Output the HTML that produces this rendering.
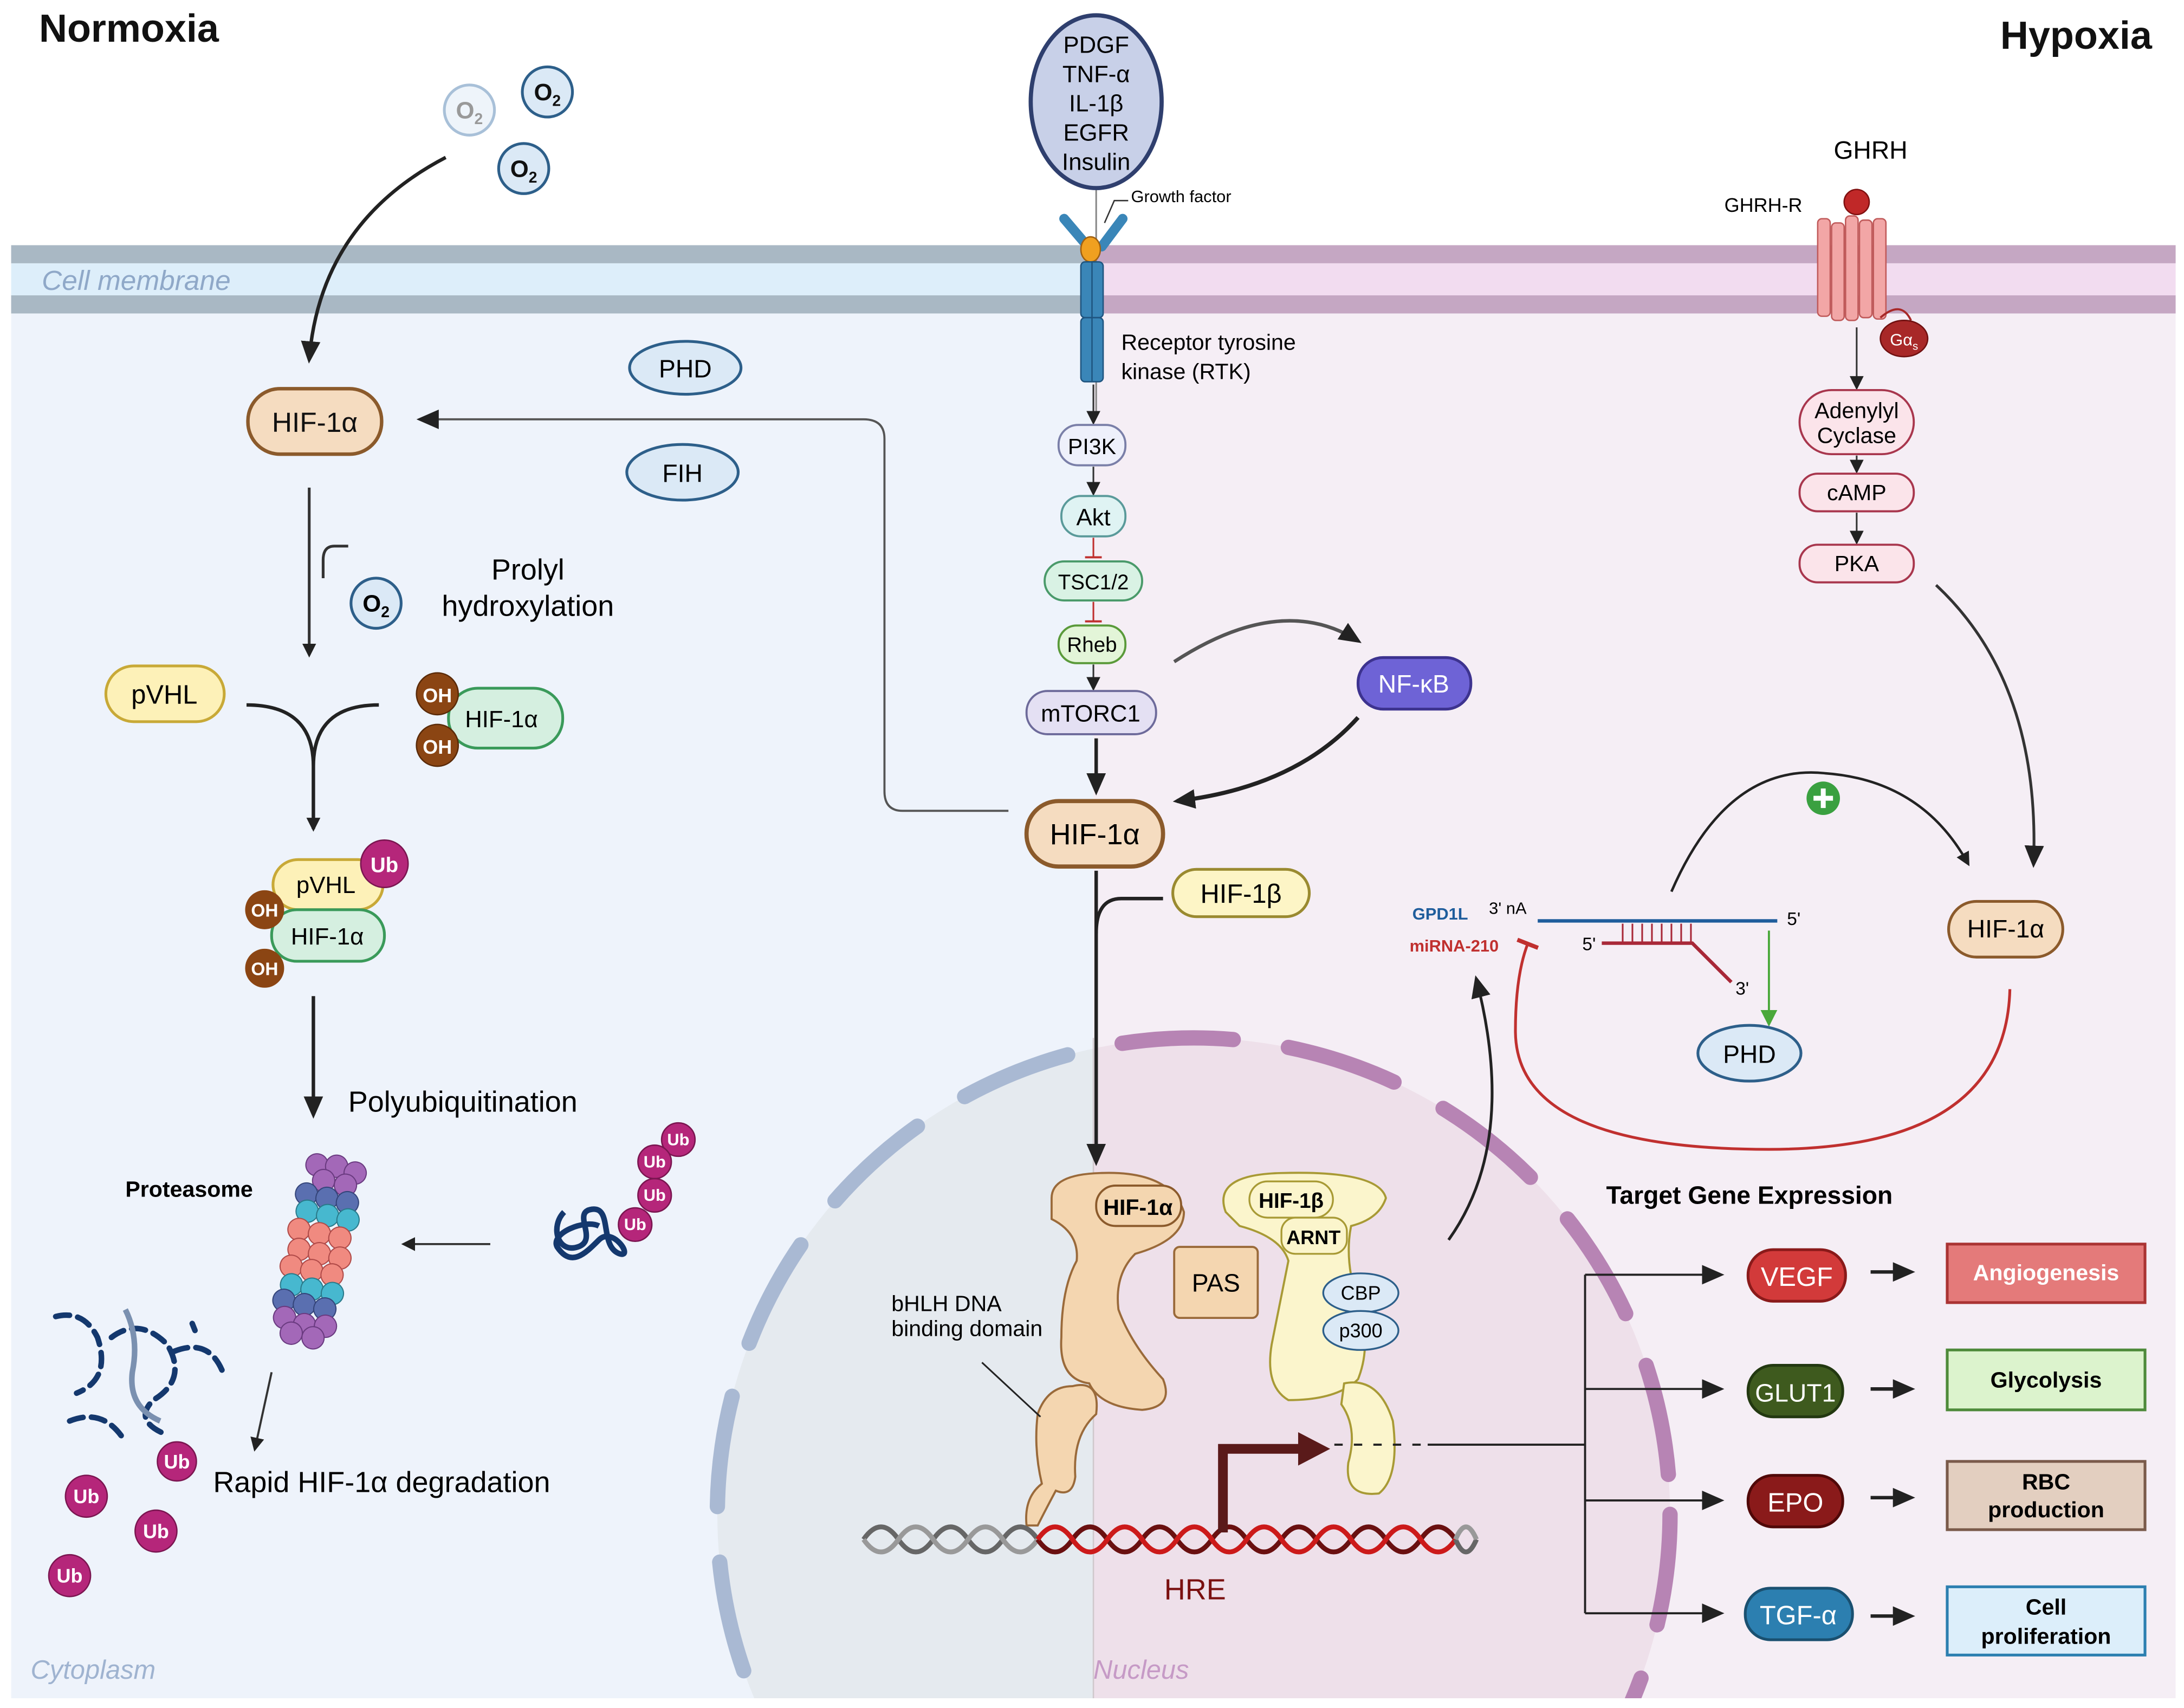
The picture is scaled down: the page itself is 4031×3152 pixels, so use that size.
<!DOCTYPE html>
<html><head><meta charset="utf-8"><style>
html,body{margin:0;padding:0;background:#fff;overflow:hidden;width:4031px;height:3152px;}
svg{display:block;overflow:hidden;}
text{font-family:"Liberation Sans",sans-serif;}
</style></head><body>
<svg width="4031" height="3152" viewBox="0 0 1568 1226" preserveAspectRatio="none" xmlns="http://www.w3.org/2000/svg">
<defs>
<marker id="ah" markerWidth="10" markerHeight="10" refX="8" refY="5" orient="auto" markerUnits="userSpaceOnUse"><path d="M0,0 L10,5 L0,10 Z" fill="#222"/></marker>
<marker id="ahb" markerWidth="16" markerHeight="14" refX="13" refY="7" orient="auto" markerUnits="userSpaceOnUse"><path d="M0,0 L16,7 L0,14 Z" fill="#222"/></marker>
<marker id="ahg" markerWidth="12" markerHeight="12" refX="10" refY="6" orient="auto" markerUnits="userSpaceOnUse"><path d="M0,0 L12,6 L0,12 Z" fill="#4aa83a"/></marker>
<marker id="tr" markerWidth="4" markerHeight="16" refX="2" refY="8" orient="auto" markerUnits="userSpaceOnUse"><rect x="0" y="0" width="3" height="16" fill="#c0302f"/></marker>
<clipPath id="cl"><rect x="0" y="0" width="785" height="1219"/></clipPath>
<clipPath id="cr"><rect x="785" y="0" width="777" height="1219"/></clipPath>
</defs>
<rect width="1568" height="1226" fill="#fff"/>
<rect x="8" y="225" width="777" height="994" fill="#eef3fb"/>
<rect x="785" y="225" width="777" height="994" fill="#f5eef5"/>
<rect x="8" y="176" width="777" height="13" fill="#a9b8c4"/>
<rect x="8" y="189" width="777" height="23" fill="#ddeefa"/>
<rect x="8" y="212" width="777" height="13" fill="#a9b8c4"/>
<rect x="785" y="176" width="777" height="13" fill="#c5a7c3"/>
<rect x="785" y="189" width="777" height="23" fill="#f2dcf0"/>
<rect x="785" y="212" width="777" height="13" fill="#c5a7c3"/>
<text x="30" y="208" font-size="20" font-style="italic" fill="#8fa8c8">Cell membrane</text>
<g clip-path="url(#cl)"><circle cx="857" cy="1087" r="342" fill="#e5eaef"/>
<circle cx="857" cy="1087" r="342" fill="none" stroke="#a9b9d3" stroke-width="11" stroke-linecap="round" stroke-dasharray="80 40"/></g>
<g clip-path="url(#cr)"><circle cx="857" cy="1087" r="342" fill="#eee0ea"/>
<circle cx="857" cy="1087" r="342" fill="none" stroke="#b784b4" stroke-width="11" stroke-linecap="round" stroke-dasharray="80 40"/></g>
<line x1="785" y1="745" x2="785" y2="1219" stroke="#d0c8cc" stroke-width="1"/>
<text x="22" y="1205" font-size="19" font-style="italic" fill="#9fb3d0">Cytoplasm</text>
<text x="785" y="1205" font-size="19" font-style="italic" fill="#c69ac6">Nucleus</text>

<text x="28" y="30" font-size="28" font-weight="bold" fill="#111">Normoxia</text>
<text x="1545" y="35" font-size="28" font-weight="bold" fill="#111" text-anchor="end">Hypoxia</text>

<circle cx="337" cy="79" r="18" fill="#eef4fa" stroke="#a8c0d8" stroke-width="2"/>
<text x="337" y="85" font-size="17" font-weight="bold" fill="#999" text-anchor="middle">O<tspan font-size="11" dy="4">2</tspan></text>
<circle cx="393" cy="66" r="18" fill="#dbe9f6" stroke="#2d5f8a" stroke-width="2"/>
<text x="393" y="72" font-size="17" font-weight="bold" fill="#111" text-anchor="middle">O<tspan font-size="11" dy="4">2</tspan></text>
<circle cx="376" cy="121" r="18" fill="#dbe9f6" stroke="#2d5f8a" stroke-width="2"/>
<text x="376" y="127" font-size="17" font-weight="bold" fill="#111" text-anchor="middle">O<tspan font-size="11" dy="4">2</tspan></text>
<path d="M320,113 Q230,160 222,258" fill="none" stroke="#222" stroke-width="2.5" marker-end="url(#ahb)"/>

<rect x="178" y="279" width="96" height="47" rx="23" fill="#f5dcc0" stroke="#8b5a2b" stroke-width="2.5"/>
<text x="226" y="310" font-size="20" text-anchor="middle" fill="#111">HIF-1α</text>
<ellipse cx="492" cy="264" rx="40" ry="19" fill="#dbe9f6" stroke="#2d5f8a" stroke-width="2"/>
<text x="492" y="271" font-size="18" text-anchor="middle">PHD</text>
<ellipse cx="490" cy="339" rx="40" ry="20" fill="#dbe9f6" stroke="#2d5f8a" stroke-width="2"/>
<text x="490" y="346" font-size="18" text-anchor="middle">FIH</text>
<path d="M724,582 L648,582 Q635,582 635,568 L635,315 Q635,301 620,301 L302,301" fill="none" stroke="#555" stroke-width="1.5" marker-end="url(#ahb)"/>

<line x1="222" y1="350" x2="222" y2="470" stroke="#333" stroke-width="2" marker-end="url(#ah)"/>
<path d="M250,392 L240,392 Q232,392 232,402 L232,415" fill="none" stroke="#333" stroke-width="2"/>
<circle cx="270" cy="433" r="18" fill="#dbe9f6" stroke="#2d5f8a" stroke-width="2"/>
<text x="270" y="439" font-size="17" font-weight="bold" text-anchor="middle">O<tspan font-size="11" dy="4">2</tspan></text>
<text x="379" y="416" font-size="21" text-anchor="middle">Prolyl</text>
<text x="379" y="442" font-size="21" text-anchor="middle">hydroxylation</text>

<rect x="76" y="478" width="85" height="40" rx="20" fill="#fdf1b8" stroke="#c8a937" stroke-width="2"/>
<text x="118" y="505" font-size="19" text-anchor="middle">pVHL</text>
<rect x="322" y="494" width="82" height="43" rx="21" fill="#d5efe0" stroke="#3a9a5a" stroke-width="2"/>
<text x="360" y="522" font-size="17" text-anchor="middle">HIF-1α</text>
<circle cx="314" cy="498" r="15" fill="#8b4513" stroke="#5a2a08"/><text x="314" y="504" font-size="14" font-weight="bold" fill="#fff" text-anchor="middle">OH</text>
<circle cx="314" cy="535" r="15" fill="#8b4513" stroke="#5a2a08"/><text x="314" y="541" font-size="14" font-weight="bold" fill="#fff" text-anchor="middle">OH</text>
<path d="M177,506 Q225,506 225,550 M272,506 Q225,506 225,550 L225,595" fill="none" stroke="#222" stroke-width="2.5" marker-end="url(#ah)"/>

<rect x="196" y="617" width="79" height="36" rx="18" fill="#fdf1b8" stroke="#c8a937" stroke-width="2"/>
<text x="234" y="641" font-size="17" text-anchor="middle">pVHL</text>
<rect x="195" y="653" width="81" height="37" rx="18" fill="#d5efe0" stroke="#3a9a5a" stroke-width="2"/>
<text x="235" y="678" font-size="17" text-anchor="middle">HIF-1α</text>
<circle cx="276" cy="620" r="17" fill="#b5267a" stroke="#7a1550"/><text x="276" y="626" font-size="15" font-weight="bold" fill="#fff" text-anchor="middle">Ub</text>
<circle cx="190" cy="653" r="14" fill="#8b4513"/><text x="190" y="658" font-size="13" font-weight="bold" fill="#fff" text-anchor="middle">OH</text>
<circle cx="190" cy="695" r="14" fill="#8b4513"/><text x="190" y="700" font-size="13" font-weight="bold" fill="#fff" text-anchor="middle">OH</text>
<line x1="225" y1="715" x2="225" y2="800" stroke="#222" stroke-width="2.5" marker-end="url(#ahb)"/>
<text x="250" y="798" font-size="21">Polyubiquitination</text>
<text x="90" y="859" font-size="16" font-weight="bold">Proteasome</text>

<g transform="rotate(12 230 897)">
<g fill="#a368b8" stroke="#6a3a80" stroke-width="0.8"><circle cx="215" cy="838" r="8"/><circle cx="229" cy="836" r="8"/><circle cx="243" cy="838" r="8"/><circle cx="222" cy="848" r="8"/><circle cx="238" cy="848" r="8"/></g>
<g fill="#5a6fb0" stroke="#34457a" stroke-width="0.8"><circle cx="212" cy="860" r="8"/><circle cx="227" cy="860" r="8"/><circle cx="242" cy="860" r="8"/></g>
<g fill="#47b8cf" stroke="#2a7a8a" stroke-width="0.8"><circle cx="215" cy="872" r="8"/><circle cx="230" cy="872" r="8"/><circle cx="245" cy="872" r="8"/></g>
<g fill="#f08a80" stroke="#b04a48" stroke-width="0.8"><circle cx="212" cy="886" r="8"/><circle cx="227" cy="886" r="8"/><circle cx="242" cy="886" r="8"/><circle cx="215" cy="900" r="8"/><circle cx="230" cy="900" r="8"/><circle cx="245" cy="900" r="8"/><circle cx="212" cy="913" r="8"/><circle cx="227" cy="913" r="8"/><circle cx="242" cy="913" r="8"/></g>
<g fill="#47b8cf" stroke="#2a7a8a" stroke-width="0.8"><circle cx="215" cy="926" r="8"/><circle cx="230" cy="926" r="8"/><circle cx="245" cy="926" r="8"/></g>
<g fill="#5a6fb0" stroke="#34457a" stroke-width="0.8"><circle cx="212" cy="938" r="8"/><circle cx="227" cy="938" r="8"/><circle cx="242" cy="938" r="8"/></g>
<g fill="#a368b8" stroke="#6a3a80" stroke-width="0.8"><circle cx="215" cy="950" r="8"/><circle cx="230" cy="952" r="8"/><circle cx="245" cy="950" r="8"/><circle cx="222" cy="960" r="8"/><circle cx="238" cy="960" r="8"/></g>
</g>
<path d="M405,870 C395,880 400,900 415,895 C430,890 410,870 425,868 C440,866 430,895 445,900 C455,903 440,880 430,890 C420,900 410,910 400,895 C395,885 420,875 430,880" fill="none" stroke="#14386e" stroke-width="4"/>
<g fill="#b5267a" stroke="#7a1550"><circle cx="487" cy="818" r="12"/><circle cx="470" cy="834" r="12"/><circle cx="470" cy="858" r="12"/><circle cx="456" cy="879" r="12"/></g>
<g font-size="12" font-weight="bold" fill="#fff" text-anchor="middle"><text x="487" y="822">Ub</text><text x="470" y="838">Ub</text><text x="470" y="862">Ub</text><text x="456" y="883">Ub</text></g>
<line x1="352" y1="893" x2="290" y2="893" stroke="#333" stroke-width="1.5" marker-end="url(#ah)"/>
<g fill="none" stroke="#14386e" stroke-width="4" stroke-dasharray="10 6" stroke-linecap="round">
<path d="M40,945 Q60,940 70,960 Q80,990 55,1000"/>
<path d="M80,960 Q100,945 120,965 Q135,990 110,1005 Q95,1020 120,1030"/>
<path d="M125,970 Q150,960 160,985"/>
<path d="M50,1020 Q75,1010 90,1035"/>
<path d="M138,950 L140,955"/>
</g>
<path d="M90,940 Q100,960 95,985 Q92,1010 115,1020" fill="none" stroke="#7a90b0" stroke-width="4"/>
<line x1="195" y1="985" x2="183" y2="1040" stroke="#333" stroke-width="1.5" marker-end="url(#ah)"/>
<text x="153" y="1071" font-size="21">Rapid HIF-1α degradation</text>
<g fill="#b5267a" stroke="#7a1550"><circle cx="62" cy="1074" r="15"/><circle cx="112" cy="1099" r="15"/><circle cx="50" cy="1131" r="15"/><circle cx="127" cy="1049" r="14"/></g>
<g font-size="14" font-weight="bold" fill="#fff" text-anchor="middle"><text x="62" y="1079">Ub</text><text x="112" y="1104">Ub</text><text x="50" y="1136">Ub</text><text x="127" y="1054">Ub</text></g>

<line x1="787" y1="135" x2="787" y2="300" stroke="#888" stroke-width="1.2"/>
<ellipse cx="787" cy="73" rx="47" ry="62" fill="#c8d0e8" stroke="#2f3f6e" stroke-width="3"/>
<g font-size="17" text-anchor="middle"><text x="787" y="38">PDGF</text><text x="787" y="59">TNF-α</text><text x="787" y="80">IL-1β</text><text x="787" y="101">EGFR</text><text x="787" y="122">Insulin</text></g>
<path d="M793,160 L800,144 L810,144" fill="none" stroke="#333" stroke-width="1"/>
<text x="812" y="145" font-size="12">Growth factor</text>
<path d="M764,157 L781,177 M806,157 L791,177" stroke="#3a86b8" stroke-width="7" stroke-linecap="round"/>
<ellipse cx="783" cy="179" rx="7" ry="9" fill="#f0a020" stroke="#a06010"/>
<rect x="776" y="188" width="16" height="40" rx="3" fill="#3a86b8" stroke="#1f5580"/>
<rect x="776" y="228" width="16" height="46" rx="3" fill="#3a86b8" stroke="#1f5580"/>
<line x1="784" y1="188" x2="784" y2="274" stroke="#1f5580" stroke-width="1"/>
<text x="805" y="251" font-size="16">Receptor tyrosine</text>
<text x="805" y="272" font-size="16">kinase (RTK)</text>

<line x1="785" y1="276" x2="785" y2="303" stroke="#333" stroke-width="1.2" marker-end="url(#ah)"/>
<rect x="760" y="305" width="48" height="29" rx="14" fill="#eef0fb" stroke="#7a7fa8" stroke-width="1.5"/><text x="784" y="326" font-size="16" text-anchor="middle">PI3K</text>
<line x1="785" y1="335" x2="785" y2="354" stroke="#333" stroke-width="1.2" marker-end="url(#ah)"/>
<rect x="762" y="356" width="46" height="29" rx="14" fill="#dff3f3" stroke="#5a9a9a" stroke-width="1.5"/><text x="785" y="377" font-size="17" text-anchor="middle">Akt</text>
<line x1="785" y1="386" x2="785" y2="400" stroke="#c0302f" stroke-width="1.2"/><line x1="779" y1="400" x2="791" y2="400" stroke="#c0302f" stroke-width="1.5"/>
<rect x="750" y="403" width="70" height="28" rx="14" fill="#d9f2e4" stroke="#4a9a6a" stroke-width="1.5"/><text x="785" y="423" font-size="15" text-anchor="middle">TSC1/2</text>
<line x1="785" y1="432" x2="785" y2="446" stroke="#c0302f" stroke-width="1.2"/><line x1="779" y1="446" x2="791" y2="446" stroke="#c0302f" stroke-width="1.5"/>
<rect x="760" y="449" width="48" height="27" rx="13" fill="#e3f5d8" stroke="#5a9a3a" stroke-width="1.5"/><text x="784" y="468" font-size="15" text-anchor="middle">Rheb</text>
<line x1="785" y1="477" x2="785" y2="494" stroke="#333" stroke-width="1.2" marker-end="url(#ah)"/>
<rect x="737" y="496" width="93" height="31" rx="15" fill="#e4e0f3" stroke="#6d6a9a" stroke-width="1.5"/><text x="783" y="518" font-size="17" text-anchor="middle">mTORC1</text>
<line x1="787" y1="530" x2="787" y2="568" stroke="#222" stroke-width="2.5" marker-end="url(#ahb)"/>
<rect x="737" y="575" width="98" height="47" rx="23" fill="#f5dcc0" stroke="#8b5a2b" stroke-width="3"/>
<text x="786" y="606" font-size="21" text-anchor="middle">HIF-1α</text>
<rect x="975" y="472" width="81" height="37" rx="18" fill="#6e63d6" stroke="#3d338f" stroke-width="2"/>
<text x="1015" y="497" font-size="18" fill="#fff" text-anchor="middle">NF-κB</text>
<path d="M843,475 Q920,425 975,460" fill="none" stroke="#555" stroke-width="2.5" marker-end="url(#ahb)"/>
<path d="M975,515 Q930,565 845,575" fill="none" stroke="#222" stroke-width="3" marker-end="url(#ahb)"/>
<rect x="842" y="624" width="98" height="34" rx="17" fill="#fdf5c6" stroke="#9a8a30" stroke-width="2"/>
<text x="891" y="648" font-size="19" text-anchor="middle">HIF-1β</text>
<line x1="787" y1="625" x2="787" y2="834" stroke="#222" stroke-width="2.5" marker-end="url(#ahb)"/>
<path d="M835,645 L805,645 Q787,645 787,670" fill="none" stroke="#222" stroke-width="2.5"/>

<path d="M755,860 Q755,843 790,842 Q840,840 850,870 Q850,890 815,900 Q800,915 803,940 Q812,965 835,990 Q843,1010 820,1012 Q790,1010 782,993 Q760,990 762,960 Q762,925 773,905 Q775,885 755,875 Z" fill="#f4d6b0" stroke="#9a6a3a" stroke-width="1.5"/>
<path d="M770,995 Q790,990 787,1015 Q770,1030 772,1060 Q770,1075 758,1070 Q750,1085 745,1095 L737,1095 Q735,1075 748,1065 Q742,1040 745,1015 Q752,995 770,995 Z" fill="#f4d6b0" stroke="#9a6a3a" stroke-width="1.5"/>
<rect x="787" y="851" width="61" height="29" rx="14" fill="#f4d6b0" stroke="#8b5a2b" stroke-width="1.5"/>
<text x="817" y="872" font-size="16" font-weight="bold" text-anchor="middle">HIF-1α</text>
<path d="M880,870 Q870,843 920,842 Q990,840 995,860 Q990,875 970,880 Q965,905 975,935 Q985,965 975,990 Q960,1005 925,1005 Q908,995 913,965 Q920,930 925,905 Q920,888 890,880 Z" fill="#fbf5cc" stroke="#a89a35" stroke-width="1.5"/>
<path d="M965,993 Q990,988 1000,1020 Q1005,1060 990,1072 Q965,1075 968,1050 Q975,1025 963,1008 Z" fill="#fbf5cc" stroke="#a89a35" stroke-width="1.5"/>
<rect x="897" y="848" width="60" height="26" rx="13" fill="#fbf5cc" stroke="#a89a35" stroke-width="1.3"/><text x="927" y="867" font-size="15" font-weight="bold" text-anchor="middle">HIF-1β</text>
<rect x="920" y="874" width="47" height="26" rx="10" fill="#fbf5cc" stroke="#a89a35" stroke-width="1.3"/><text x="943" y="893" font-size="14" font-weight="bold" text-anchor="middle">ARNT</text>
<rect x="843" y="895" width="60" height="51" rx="4" fill="#f4d6b0" stroke="#9a6a3a" stroke-width="1.5"/><text x="873" y="927" font-size="18" text-anchor="middle">PAS</text>
<ellipse cx="977" cy="928" rx="27" ry="14" fill="#dbe9f6" stroke="#2d5f8a" stroke-width="1.3"/><text x="977" y="933" font-size="14" text-anchor="middle">CBP</text>
<ellipse cx="977" cy="955" rx="27" ry="14" fill="#dbe9f6" stroke="#2d5f8a" stroke-width="1.3"/><text x="977" y="960" font-size="14" text-anchor="middle">p300</text>
<text x="640" y="941" font-size="16">bHLH DNA</text>
<text x="640" y="959" font-size="16">binding domain</text>
<line x1="705" y1="978" x2="747" y2="1017" stroke="#222" stroke-width="1.2"/>
<g fill="none" stroke-width="3.5">
<path d="M620,1105 q12.5,-18 25,0 t25,0 t25,0 t25,0 t25,0" stroke="#666"/>
<path d="M620,1105 q12.5,18 25,0 t25,0 t25,0 t25,0 t25,0" stroke="#999"/>
<path d="M745,1105 q12.5,18 25,0 t25,0 t25,0 t25,0 t25,0 t25,0 t25,0 t25,0 t25,0 t25,0 t25,0 t25,0" stroke="#6a1010"/>
<path d="M745,1105 q12.5,-18 25,0 t25,0 t25,0 t25,0 t25,0 t25,0 t25,0 t25,0 t25,0 t25,0 t25,0 t25,0" stroke="#cc1a1a"/>
<path d="M1045,1105 q7.5,18 15,0" stroke="#666"/>
<path d="M1045,1105 q7.5,-18 15,0" stroke="#999"/>
</g>
<path d="M878,1100 L878,1040 L935,1040" fill="none" stroke="#5a1a1a" stroke-width="7"/>
<path d="M932,1028 L955,1040 L932,1052 Z" fill="#5a1a1a"/>
<line x1="958" y1="1037" x2="1025" y2="1037" stroke="#222" stroke-width="1.5" stroke-dasharray="6 8"/>
<text x="858" y="1148" font-size="21" fill="#7a1010" text-anchor="middle">HRE</text>
<path d="M1040,890 Q1090,820 1060,703" fill="none" stroke="#222" stroke-width="2" marker-end="url(#ahb)"/>

<text x="1343" y="114" font-size="18" text-anchor="middle">GHRH</text>
<text x="1238" y="152" font-size="14">GHRH-R</text>
<g fill="#f2a6a6" stroke="#c05a5a" stroke-width="1"><rect x="1305" y="157" width="9" height="70" rx="3"/><rect x="1315" y="160" width="9" height="70" rx="3"/><rect x="1325" y="155" width="9" height="75" rx="3"/><rect x="1335" y="158" width="9" height="70" rx="3"/><rect x="1345" y="157" width="9" height="72" rx="3"/></g>
<circle cx="1333" cy="145" r="9" fill="#c02828" stroke="#801010"/>
<path d="M1350,228 Q1365,215 1372,230" fill="none" stroke="#a82828" stroke-width="1.5"/>
<ellipse cx="1367" cy="243" rx="17" ry="13" fill="#a82828" stroke="#701010"/>
<text x="1367" y="248" font-size="12" fill="#fff" text-anchor="middle">Gα<tspan font-size="8" dy="3">s</tspan></text>
<line x1="1333" y1="235" x2="1333" y2="278" stroke="#333" stroke-width="1.2" marker-end="url(#ah)"/>
<rect x="1292" y="280" width="82" height="46" rx="23" fill="#fbe4ea" stroke="#a8364d" stroke-width="1.5"/>
<text x="1333" y="300" font-size="16" text-anchor="middle">Adenylyl</text><text x="1333" y="318" font-size="16" text-anchor="middle">Cyclase</text>
<line x1="1333" y1="327" x2="1333" y2="338" stroke="#333" stroke-width="1.2" marker-end="url(#ah)"/>
<rect x="1292" y="340" width="82" height="27" rx="13" fill="#fbe4ea" stroke="#a8364d" stroke-width="1.5"/><text x="1333" y="359" font-size="16" text-anchor="middle">cAMP</text>
<line x1="1333" y1="368" x2="1333" y2="389" stroke="#333" stroke-width="1.2" marker-end="url(#ah)"/>
<rect x="1292" y="391" width="82" height="27" rx="13" fill="#fbe4ea" stroke="#a8364d" stroke-width="1.5"/><text x="1333" y="410" font-size="16" text-anchor="middle">PKA</text>
<path d="M1390,420 Q1465,490 1460,620" fill="none" stroke="#333" stroke-width="2" marker-end="url(#ahb)"/>
<rect x="1399" y="647" width="82" height="40" rx="20" fill="#f5dcc0" stroke="#8b5a2b" stroke-width="2"/>
<text x="1440" y="673" font-size="18" text-anchor="middle">HIF-1α</text>
<path d="M1200,640 Q1240,548 1310,555 Q1380,560 1413,620" fill="none" stroke="#222" stroke-width="1.8" marker-end="url(#ah)"/>
<circle cx="1309" cy="573" r="12" fill="#3aa040"/>
<path d="M1302,573 L1316,573 M1309,566 L1309,580" stroke="#fff" stroke-width="3.5"/>
<path d="M1443,710 Q1440,825 1270,825 Q1088,825 1088,740 Q1088,700 1097,677" fill="none" stroke="#c0302f" stroke-width="2" marker-end="url(#tr)"/>
<text x="1014" y="660" font-size="12" font-weight="bold" fill="#1f5d9c">GPD1L</text>
<text x="1012" y="683" font-size="12" font-weight="bold" fill="#c0302f">miRNA-210</text>
<text x="1069" y="656" font-size="12">3' nA</text>
<line x1="1104" y1="661" x2="1276" y2="661" stroke="#1f5d9c" stroke-width="2.5"/>
<text x="1283" y="664" font-size="13">5'</text>
<text x="1136" y="682" font-size="13">5'</text>
<path d="M1150,677 L1215,677 L1243,705" fill="none" stroke="#a82838" stroke-width="2.5"/>
<text x="1246" y="714" font-size="13">3'</text>
<g stroke="#a82838" stroke-width="1.2"><line x1="1165" y1="663" x2="1165" y2="676"/><line x1="1172" y1="663" x2="1172" y2="676"/><line x1="1179" y1="663" x2="1179" y2="676"/><line x1="1186" y1="663" x2="1186" y2="676"/><line x1="1193" y1="663" x2="1193" y2="676"/><line x1="1200" y1="663" x2="1200" y2="676"/><line x1="1207" y1="663" x2="1207" y2="676"/><line x1="1214" y1="663" x2="1214" y2="676"/></g>
<line x1="1270" y1="668" x2="1270" y2="735" stroke="#4aa83a" stroke-width="1.5" marker-end="url(#ahg)"/>
<ellipse cx="1256" cy="756" rx="37" ry="20" fill="#dbe9f6" stroke="#2d5f8a" stroke-width="2"/>
<text x="1256" y="763" font-size="18" text-anchor="middle">PHD</text>

<text x="1256" y="864" font-size="18" font-weight="bold" text-anchor="middle">Target Gene Expression</text>
<g fill="none" stroke="#222" stroke-width="1.5">
<line x1="1025" y1="1037" x2="1138" y2="1037"/>
<line x1="1138" y1="915" x2="1138" y2="1158"/>
<line x1="1138" y1="915" x2="1235" y2="915" marker-end="url(#ahb)"/>
<line x1="1138" y1="997" x2="1235" y2="997" marker-end="url(#ahb)"/>
<line x1="1138" y1="1077" x2="1235" y2="1077" marker-end="url(#ahb)"/>
<line x1="1138" y1="1158" x2="1235" y2="1158" marker-end="url(#ahb)"/>
</g>
<g stroke="#222" stroke-width="2.5">
<line x1="1343" y1="913" x2="1372" y2="913" marker-end="url(#ahb)"/>
<line x1="1343" y1="997" x2="1372" y2="997" marker-end="url(#ahb)"/>
<line x1="1343" y1="1075" x2="1372" y2="1075" marker-end="url(#ahb)"/>
<line x1="1343" y1="1160" x2="1372" y2="1160" marker-end="url(#ahb)"/>
</g>
<rect x="1255" y="897" width="70" height="37" rx="18" fill="#d23a3a" stroke="#8a1a1a" stroke-width="2"/><text x="1290" y="923" font-size="19" fill="#fff" text-anchor="middle">VEGF</text>
<rect x="1255" y="980" width="68" height="37" rx="18" fill="#3e5a1e" stroke="#223810" stroke-width="2"/><text x="1289" y="1006" font-size="18" fill="#fff" text-anchor="middle">GLUT1</text>
<rect x="1255" y="1059" width="68" height="37" rx="18" fill="#8a1a1a" stroke="#500808" stroke-width="2"/><text x="1289" y="1085" font-size="19" fill="#fff" text-anchor="middle">EPO</text>
<rect x="1253" y="1140" width="77" height="37" rx="18" fill="#2c7fb0" stroke="#1a5070" stroke-width="2"/><text x="1291" y="1166" font-size="19" fill="#fff" text-anchor="middle">TGF-α</text>
<rect x="1398" y="893" width="142" height="42" fill="#e47a7a" stroke="#a33" stroke-width="2"/><text x="1469" y="919" font-size="16" font-weight="bold" fill="#fff" text-anchor="middle">Angiogenesis</text>
<rect x="1398" y="969" width="142" height="43" fill="#dcf3cd" stroke="#4e8a3a" stroke-width="2"/><text x="1469" y="996" font-size="16" font-weight="bold" text-anchor="middle">Glycolysis</text>
<rect x="1398" y="1049" width="142" height="49" fill="#e3cfc0" stroke="#7a5a4a" stroke-width="2"/><text x="1469" y="1069" font-size="16" font-weight="bold" text-anchor="middle">RBC</text><text x="1469" y="1089" font-size="16" font-weight="bold" text-anchor="middle">production</text>
<rect x="1398" y="1139" width="142" height="49" fill="#dceefa" stroke="#2c7fb0" stroke-width="2"/><text x="1469" y="1159" font-size="16" font-weight="bold" text-anchor="middle">Cell</text><text x="1469" y="1180" font-size="16" font-weight="bold" text-anchor="middle">proliferation</text>
</svg>
</body></html>
